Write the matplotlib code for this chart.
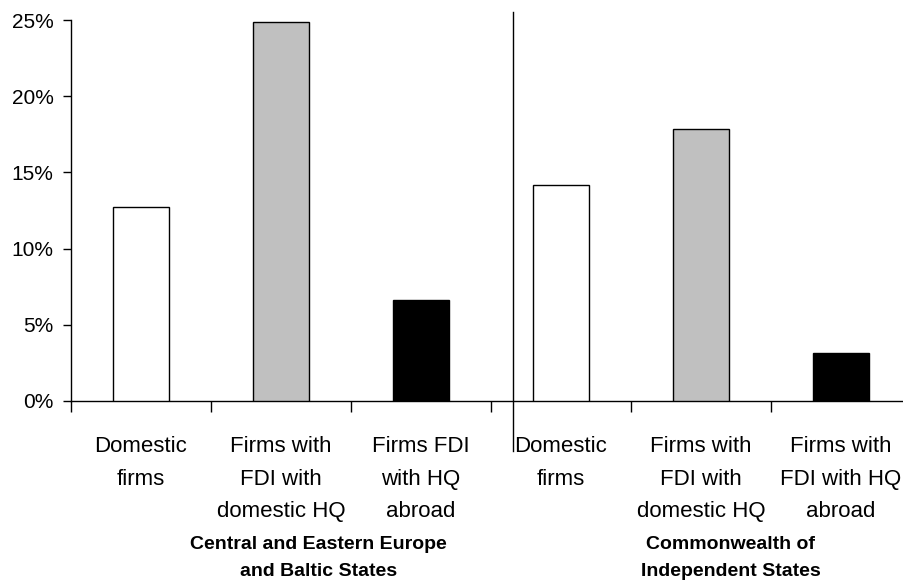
import matplotlib
matplotlib.use("Agg")
import matplotlib.pyplot as plt

categories = ["Domestic\nfirms", "Firms with\nFDI with\ndomestic HQ", "Firms FDI\nwith HQ\nabroad",
              "Domestic\nfirms", "Firms with\nFDI with\ndomestic HQ", "Firms with\nFDI with HQ\nabroad"]
values = [12.7, 24.9, 6.65, 14.2, 17.85, 3.15]
bar_colors = ["white", "#C0C0C0", "black", "white", "#C0C0C0", "black"]
groups = ["Central and Eastern Europe\nand Baltic States", "Commonwealth of\nIndependent States"]
yticks = [0, 5, 10, 15, 20, 25]
ytick_labels = ["0%", "5%", "10%", "15%", "20%", "25%"]

plt.rcParams['font.family'] = ['Liberation Sans', 'DejaVu Sans']

fig = plt.figure(figsize=(9.04, 5.8), dpi=100)
W, H = 904, 580
left_px, right_px, top_px, bot_px = 71, 911, 20, 401
ax = fig.add_axes([left_px / W, 1 - bot_px / H, (right_px - left_px) / W, (bot_px - top_px) / H])

x = list(range(len(values)))
ax.bar(x, values, width=0.4, color=bar_colors, edgecolor="black", linewidth=1.0, zorder=3)

ax.set_xlim(-0.5, 5.5)
ax.set_ylim(0, 25)
ax.set_yticks(yticks)
ax.set_yticklabels(ytick_labels, fontsize=15)
ax.tick_params(axis="y", length=6, width=1, pad=6.5, direction="out")

ax.set_xticks([i - 0.5 for i in range(7)])
ax.set_xticklabels([])
ax.tick_params(axis="x", length=8, width=1, direction="out")

for s in ["top", "right"]:
    ax.spines[s].set_visible(False)
for s in ["left", "bottom"]:
    ax.spines[s].set_linewidth(1.0)

for xi, lab in zip(x, categories):
    ax.text(xi, -2.3, lab, ha="center", va="top", fontsize=16, linespacing=1.72,
            multialignment="center", clip_on=False)

ax.text(1.27, -10.3, groups[0], ha="center", va="center", fontsize=14, fontweight="bold",
        linespacing=1.72, multialignment="center", clip_on=False)
ax.text(4.21, -10.3, groups[1], ha="center", va="center", fontsize=14, fontweight="bold",
        linespacing=1.72, multialignment="center", clip_on=False)

# separator between the two regions
ax.plot([2.66, 2.66], [25.52, -3.28], color="black", linewidth=1.0, clip_on=False, zorder=4)

fig.savefig("out.png", dpi=100)
